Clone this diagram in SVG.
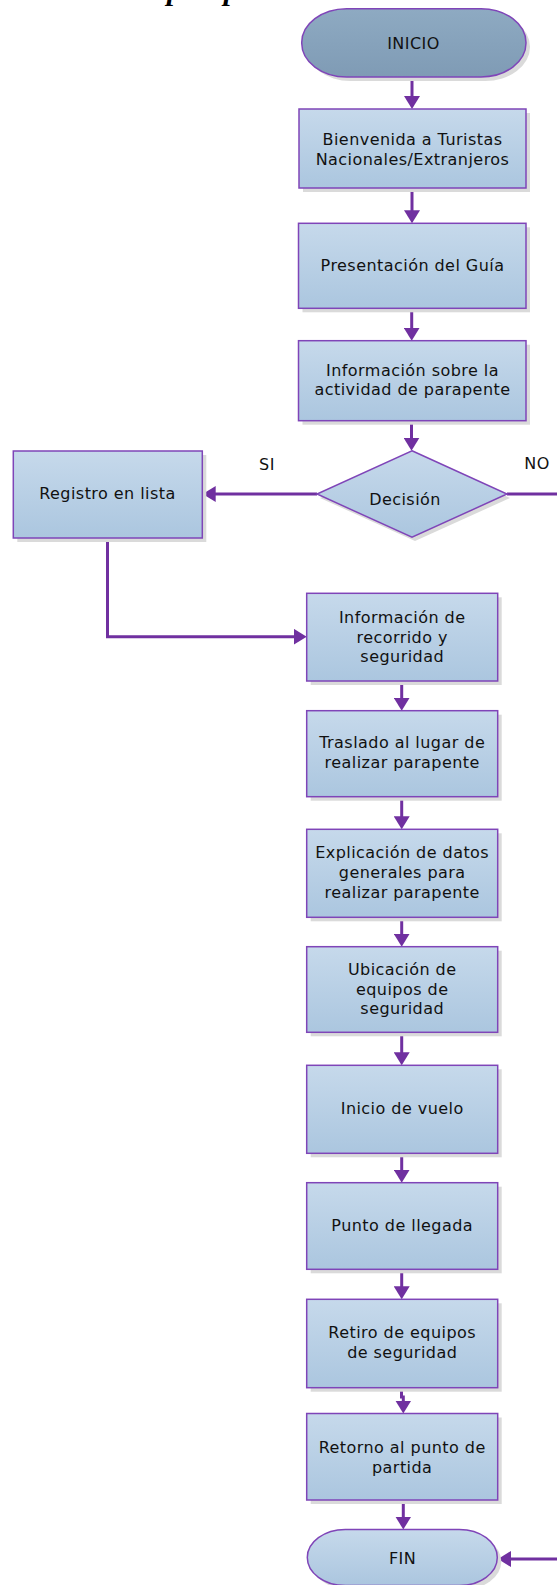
<svg xmlns="http://www.w3.org/2000/svg" width="557" height="1585" viewBox="0 0 557 1585">
<defs>
<linearGradient id="gBox" x1="0" y1="0" x2="0" y2="1">
<stop offset="0" stop-color="#c6d9eb"/>
<stop offset="1" stop-color="#abc6df"/>
</linearGradient>
<linearGradient id="gStart" x1="0" y1="0" x2="0" y2="1">
<stop offset="0" stop-color="#8eaac2"/>
<stop offset="1" stop-color="#7f9bb5"/>
</linearGradient>
<marker id="arr" viewBox="0 0 13 16" refX="7" refY="8" markerWidth="13" markerHeight="16" markerUnits="userSpaceOnUse" orient="auto">
<path d="M0,0 L13,8 L0,16 z" fill="#7030a0"/>
</marker>
<style>
.box{fill:url(#gBox);stroke:#7f45b8;stroke-width:1.5}
.start{fill:url(#gStart);stroke:#7f45b8;stroke-width:1.5}
.sh{fill:#dadada}
.conn{stroke:#7030a0;stroke-width:3;fill:none}
.t{font-family:"DejaVu Sans","Liberation Sans",sans-serif;font-size:16px;letter-spacing:0.45px;fill:#111;text-anchor:middle}
.head{font-family:"Liberation Serif",serif;font-size:30px;font-weight:bold;font-style:italic;fill:#000}
</style>
</defs>

<text class="head" x="167" y="-0.5">parapente</text>

<g id="connectors">
<path class="conn" d="M412,77 V103" marker-end="url(#arr)"/>
<path class="conn" d="M412,188 V217.3" marker-end="url(#arr)"/>
<path class="conn" d="M411.7,308.3 V334.7" marker-end="url(#arr)"/>
<path class="conn" d="M411.5,420.7 V444.7" marker-end="url(#arr)"/>
<path class="conn" d="M317,494 H208.7" marker-end="url(#arr)"/>
<path class="conn" d="M507,494 H557"/>
<path class="conn" d="M107.5,538 V636.7 H300.7" marker-end="url(#arr)"/>
<path class="conn" d="M401.7,681 V704.7" marker-end="url(#arr)"/>
<path class="conn" d="M401.7,796.7 V823.3" marker-end="url(#arr)"/>
<path class="conn" d="M401.7,917.3 V940.7" marker-end="url(#arr)"/>
<path class="conn" d="M401.7,1032.3 V1059.3" marker-end="url(#arr)"/>
<path class="conn" d="M401.7,1153.3 V1176.7" marker-end="url(#arr)"/>
<path class="conn" d="M401.7,1269.3 V1293.3" marker-end="url(#arr)"/>
<path class="conn" d="M401.5,1387.7 V1397 H403.3 V1407.5" marker-end="url(#arr)"/>
<path class="conn" d="M403.3,1500 V1523.5" marker-end="url(#arr)"/>
<path class="conn" d="M557,1559 H504" marker-end="url(#arr)"/>
</g>

<g id="inicio">
<rect class="sh" x="305.7" y="12.7" width="224.3" height="68.3" rx="45" ry="34"/>
<rect class="start" x="301.7" y="8.7" width="224.3" height="68.3" rx="45" ry="34"/>
<text class="t" x="413.5" y="48.5">INICIO</text>
</g>

<g id="bienvenida">
<rect class="sh" x="303" y="113" width="227" height="79"/>
<rect class="box" x="299" y="109" width="227" height="79"/>
<text class="t" x="412.5" y="144.5">Bienvenida a Turistas</text>
<text class="t" x="412.5" y="164.5">Nacionales/Extranjeros</text>
</g>

<g id="presentacion">
<rect class="sh" x="302.5" y="227.3" width="227.5" height="85"/>
<rect class="box" x="298.5" y="223.3" width="227.5" height="85"/>
<text class="t" x="412.5" y="271.3">Presentación del Guía</text>
</g>

<g id="info-actividad">
<rect class="sh" x="302.5" y="344.7" width="227.5" height="80"/>
<rect class="box" x="298.5" y="340.7" width="227.5" height="80"/>
<text class="t" x="412.5" y="376">Información sobre la</text>
<text class="t" x="412.5" y="395">actividad de parapente</text>
</g>

<g id="decision">
<polygon class="sh" points="415,455 510,498 415,541 320,498"/>
<polygon class="box" points="412,450.7 507,494 412,537.3 317,494"/>
<text class="t" x="405" y="504.5">Decisión</text>
</g>

<text class="t" x="267" y="470">SI</text>
<text class="t" x="537" y="468.5">NO</text>

<g id="registro">
<rect class="sh" x="17.3" y="455" width="189" height="87"/>
<rect class="box" x="13.3" y="451" width="189" height="87"/>
<text class="t" x="107.5" y="499">Registro en lista</text>
</g>

<g id="info-recorrido">
<rect class="sh" x="310.7" y="597.3" width="191" height="87.7"/>
<rect class="box" x="306.7" y="593.3" width="191" height="87.7"/>
<text class="t" x="402.2" y="623">Información de</text>
<text class="t" x="402.2" y="643">recorrido y</text>
<text class="t" x="402.2" y="662">seguridad</text>
</g>

<g id="traslado">
<rect class="sh" x="310.7" y="714.7" width="191" height="86"/>
<rect class="box" x="306.7" y="710.7" width="191" height="86"/>
<text class="t" x="402.2" y="748.3">Traslado al lugar de</text>
<text class="t" x="402.2" y="768.3">realizar parapente</text>
</g>

<g id="explicacion">
<rect class="sh" x="310.7" y="833.3" width="191" height="88"/>
<rect class="box" x="306.7" y="829.3" width="191" height="88"/>
<text class="t" x="402.2" y="857.7">Explicación de datos</text>
<text class="t" x="402.2" y="877.5">generales para</text>
<text class="t" x="402.2" y="898">realizar parapente</text>
</g>

<g id="ubicacion">
<rect class="sh" x="310.7" y="950.7" width="191" height="85.6"/>
<rect class="box" x="306.7" y="946.7" width="191" height="85.6"/>
<text class="t" x="402.2" y="975">Ubicación de</text>
<text class="t" x="402.2" y="994.5">equipos de</text>
<text class="t" x="402.2" y="1013.5">seguridad</text>
</g>

<g id="inicio-vuelo">
<rect class="sh" x="310.7" y="1069.3" width="191" height="88"/>
<rect class="box" x="306.7" y="1065.3" width="191" height="88"/>
<text class="t" x="402.2" y="1114">Inicio de vuelo</text>
</g>

<g id="punto-llegada">
<rect class="sh" x="310.7" y="1186.7" width="191" height="86.6"/>
<rect class="box" x="306.7" y="1182.7" width="191" height="86.6"/>
<text class="t" x="402.2" y="1230.7">Punto de llegada</text>
</g>

<g id="retiro">
<rect class="sh" x="310.7" y="1303.3" width="191" height="88.4"/>
<rect class="box" x="306.7" y="1299.3" width="191" height="88.4"/>
<text class="t" x="402.2" y="1338.3">Retiro de equipos</text>
<text class="t" x="402.2" y="1358.3">de seguridad</text>
</g>

<g id="retorno">
<rect class="sh" x="310.7" y="1417.5" width="191" height="86.5"/>
<rect class="box" x="306.7" y="1413.5" width="191" height="86.5"/>
<text class="t" x="402.2" y="1452.7">Retorno al punto de</text>
<text class="t" x="402.2" y="1472.7">partida</text>
</g>

<g id="fin">
<rect class="sh" x="311.3" y="1533.5" width="190" height="56" rx="38" ry="28"/>
<rect class="box" x="307.3" y="1529.5" width="190" height="56" rx="38" ry="28"/>
<text class="t" x="402.5" y="1564">FIN</text>
</g>
</svg>
